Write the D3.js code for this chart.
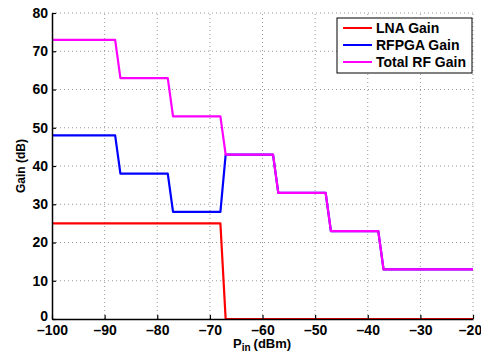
<!DOCTYPE html>
<html>
<head>
<meta charset="utf-8">
<script src="https://cdn.jsdelivr.net/npm/d3@7"></script>
<style>
  body { margin: 0; background: #fff; }
  text { font-family: "Liberation Sans", Arial, sans-serif; font-weight: bold; }
</style>
</head>
<body>
<div id="chart"></div>
<script>
// Data (Pin in dBm, gain in dB)
const pin = [-100, -88, -87, -78, -77, -68, -67, -58, -57, -48, -47, -38, -37, -20];
const lnaGain = [25, 25, 25, 25, 25, 25, 0, 0, 0, 0, 0, 0, 0, 0];
const rfpgaGain = [48, 48, 38, 38, 28, 28, 43, 43, 33, 33, 23, 23, 13, 13];
const totalGain = [73, 73, 63, 63, 53, 53, 43, 43, 33, 33, 23, 23, 13, 13];

const seriesNames = ['LNA Gain', 'RFPGA Gain', 'Total RF Gain'];
const seriesColors = ['#ff0000', '#0000ff', '#ff00ff'];
const xTicks = [-100, -90, -80, -70, -60, -50, -40, -30, -20];
const yTicks = [0, 10, 20, 30, 40, 50, 60, 70, 80];

const width = 481, height = 352;
const margin = { top: 13, right: 8, bottom: 33, left: 52 };

const svg = d3.select('#chart').append('svg')
    .attr('width', width)
    .attr('height', height);

const x = d3.scaleLinear().domain([-100, -20]).range([margin.left, width - margin.right]);
const y = d3.scaleLinear().domain([0, 80]).range([height - margin.bottom, margin.top]);

// Grid (dotted, MATLAB style)
const grid = svg.append('g').attr('class', 'grid');
grid.selectAll('line.v')
    .data(xTicks.slice(1))
    .join('line')
    .attr('x1', d => x(d)).attr('x2', d => x(d))
    .attr('y1', y(0)).attr('y2', y(80))
    .attr('stroke', '#999').attr('stroke-width', 1)
    .attr('stroke-dasharray', '1,3');
grid.selectAll('line.h')
    .data(yTicks.slice(1))
    .join('line')
    .attr('x1', x(-100)).attr('x2', x(-20))
    .attr('y1', d => y(d)).attr('y2', d => y(d))
    .attr('stroke', '#999').attr('stroke-width', 1)
    .attr('stroke-dasharray', '1,3');

// Series lines (total drawn over rfpga, lna last)
const line = d3.line().x(d => x(d[0])).y(d => y(d[1]));
const seriesData = [lnaGain, rfpgaGain, totalGain];
[1, 2, 0].forEach(i => {
    svg.append('path')
        .datum(pin.map((p, k) => [p, seriesData[i][k]]))
        .attr('d', line)
        .attr('fill', 'none')
        .attr('stroke', seriesColors[i])
        .attr('stroke-width', 2.2)
        .attr('stroke-linejoin', 'round');
});

// Axes with inward ticks
const xAxis = svg.append('g')
    .attr('transform', `translate(0,${y(0)})`)
    .call(d3.axisBottom(x).tickValues(xTicks).tickSizeInner(-4).tickSizeOuter(0)
        .tickFormat(d => String(d).replace('-', '\u2013')));
xAxis.select('.domain').attr('stroke', '#000').attr('stroke-width', 1.5);
xAxis.selectAll('.tick line').attr('stroke', '#000').attr('stroke-width', 1.2);
xAxis.selectAll('.tick text')
    .attr('font-size', 14).attr('y', 6).attr('dy', '0.71em').attr('fill', '#000')
    .attr('dx', d => d === -20 ? -3 : 0);

const yAxis = svg.append('g')
    .attr('transform', `translate(${x(-100)},0)`)
    .call(d3.axisLeft(y).tickValues(yTicks).tickSizeInner(-4).tickSizeOuter(0));
yAxis.select('.domain').attr('stroke', '#000').attr('stroke-width', 1.5);
yAxis.selectAll('.tick line').attr('stroke', '#000').attr('stroke-width', 1.2);
yAxis.selectAll('.tick text').attr('font-size', 14).attr('x', -4).attr('fill', '#000')
    .attr('y', d => d === 0 ? -3 : 0);

// Axis labels
const xl = svg.append('text')
    .attr('x', 233).attr('y', 348)
    .attr('font-size', 13);
xl.append('tspan').text('P');
xl.append('tspan').attr('font-size', 10).attr('dy', 3).text('in');
xl.append('tspan').attr('dy', -3).attr('dx', 3).text('(dBm)');

svg.append('text')
    .attr('transform', `translate(25,${(y(0) + y(80)) / 2}) rotate(-90)`)
    .attr('text-anchor', 'middle')
    .attr('font-size', 12)
    .text('Gain (dB)');

// Legend
const lg = svg.append('g').attr('transform', 'translate(337,18)');
lg.append('rect')
    .attr('width', 135).attr('height', 55)
    .attr('fill', '#fff').attr('stroke', '#000').attr('stroke-width', 1);
seriesNames.forEach((name, i) => {
    const yy = 10 + i * 17;
    lg.append('line')
        .attr('x1', 6).attr('x2', 35).attr('y1', yy).attr('y2', yy)
        .attr('stroke', seriesColors[i]).attr('stroke-width', 2);
    lg.append('text')
        .attr('x', 39).attr('y', yy).attr('dy', '0.36em')
        .attr('font-size', 14)
        .text(name);
});
</script>
</body>
</html>
